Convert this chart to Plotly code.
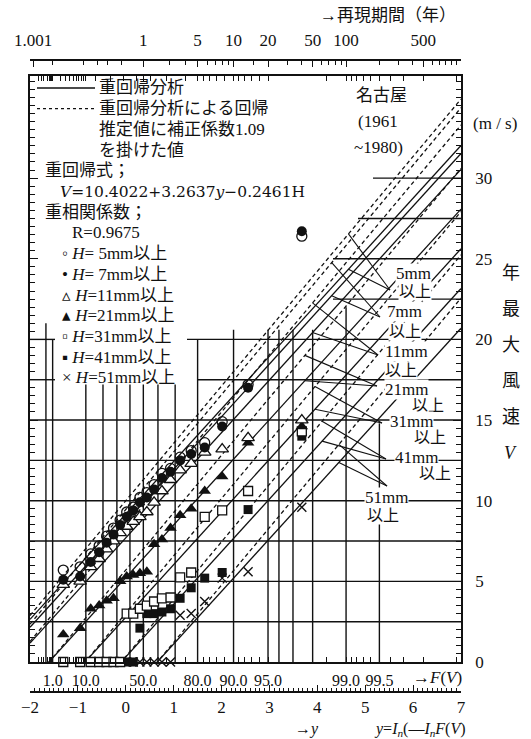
import numpy as np
import plotly.graph_objects as go

# ---------------- data ----------------
H_levels = [5, 7, 11, 21, 31, 41, 51]
coef_a, coef_b, coef_c = 10.4022, 3.2637, 0.2461   # V = a + b*y - c*H
correction = 1.09

# reduced variate y of plotting positions
reduced_y = [-1.305, -0.953, -0.732, -0.556, -0.400, -0.256, -0.118, 0.019, 0.156, 0.295,
             0.440, 0.591, 0.755, 0.935, 1.135, 1.366, 1.648, 2.013, 2.554, 3.676]

V_H5 = [5.7, 5.9, 6.7, 7.2, 7.8, 8.3, 8.8, 9.3, 9.6, 10.2, 10.5, 11.0, 11.7, 12.0, 12.7, 13.1, 13.6, 14.9, 17.2, 26.4]
V_H7 = [5.1, 5.3, 6.2, 6.8, 7.4, 7.9, 8.5, 9.0, 9.4, 9.9, 10.2, 10.7, 11.4, 11.8, 12.5, 12.9, 13.3, 14.6, 17.0, 26.7]
V_H11 = [4.8, 5.0, 5.9, 6.4, 7.0, 7.5, 8.0, 8.4, 8.7, 9.0, 9.3, 9.9, 10.6, 11.3, 11.9, 12.3, 13.0, 13.2, 13.9, 15.0]
V_H21 = [1.7, 2.1, 3.3, 3.5, 3.8, 3.95, 5.0, 5.3, 5.4, 5.5, 5.6, 7.3, 7.6, 8.3, 9.1, 9.5, 10.6, 11.5, 13.6, 14.6]
V_H31 = [0, 0, 0, 0, 0, 0, 0, 3.0, 3.0, 3.3, 3.5, 3.75, 3.95, 4.0, 5.25, 5.55, 9.0, 9.4, 10.6, 14.3]
V_H41 = [0, 0, 0, 0, 0, 0, 0, 0, 0, 2.1, 3.0, 3.0, 3.1, 3.3, 3.95, 4.6, 5.2, 5.55, 9.45, 14.0]
V_H51 = [0, 0, 0, 0, 0, 0, 0, 0, 0, 0, 0, 0, 0, 0, 2.9, 3.0, 3.75, 5.2, 5.6, 9.6]

F_tick_values = [0.01, 0.1, 0.5, 0.8, 0.9, 0.95, 0.99, 0.995]
F_tick_labels = ["1.0", "10.0", "50.0", "80.0", "90.0", "95.0", "99.0", "99.5"]
F_minor_values = [0.002, 0.003, 0.004, 0.006, 0.007, 0.008, 0.009, 0.02, 0.03, 0.04, 0.05, 0.06,
                  0.07, 0.08, 0.09, 0.15, 0.25, 0.35, 0.45, 0.55, 0.65, 0.75, 0.82, 0.84, 0.86,
                  0.88, 0.91, 0.92, 0.93, 0.94, 0.985, 0.991, 0.992, 0.993, 0.994, 0.996, 0.997,
                  0.998, 0.999]
T_tick_values = [1.001, 2, 5, 10, 20, 50, 100, 500]
T_tick_labels = ["1.001", "1", "5", "10", "20", "50", "100", "500"]
T_minor_values = [1.01, 1.1, 1.2, 1.3, 1.5, 3, 4, 6, 7, 8, 9, 15, 30, 40, 60, 70, 80, 90,
                  200, 300, 400, 600, 700, 800, 900, 1000]
y_tick_values = [-2, -1, 0, 1, 2, 3, 4, 5, 6, 7]
V_tick_values = [0, 5, 10, 15, 20, 25, 30]
F_grid_values = [0.005, 0.01, 0.1, 0.2, 0.3, 0.4, 0.5, 0.6, 0.7, 0.8, 0.9, 0.95, 0.96, 0.97,
                 0.98, 0.99, 0.995]
V_grid_values = [2.5, 5, 7.5, 10, 12.5, 15, 17.5, 20, 22.5, 25, 27.5, 30]

legend_texts = ["重回帰分析", "重回帰分析による回帰", "推定値に補正係数1.09", "を掛けた値",
                "重回帰式；", "<i>V</i>=10.4022+3.2637<i>y</i>−0.2461H", "重相関係数；", "R=0.9675"]
series_names = ["<i>H</i>= 5mm以上", "<i>H</i>= 7mm以上", "<i>H</i>=11mm以上", "<i>H</i>=21mm以上",
                "<i>H</i>=31mm以上", "<i>H</i>=41mm以上", "<i>H</i>=51mm以上"]
series_glyphs = ["◦", "•", "▵", "▴", "▫", "▪", "×"]
line_labels = ["5mm", "7mm", "11mm", "21mm", "31mm", "41mm", "51mm"]


def gumbel(F):
    return -np.log(-np.log(np.asarray(F, dtype=float)))


def T_to_y(T):
    return gumbel(1.0 - 1.0 / np.asarray(T, dtype=float))


# ---------------- geometry helpers ----------------
W, Hgt = 531, 739
ML, MR, MT, MB = 30, 70, 40, 27
PW = W - ML - MR
PH = Hgt - MT - MB
X_MIN, X_MAX = -2, 7
V_TOP = 36.33


def PX(px):
    return (px - ML) / PW


def PY(py):
    return (Hgt - MB - py) / PH


def px2x(px):
    return X_MIN + (px - ML) / PW * (X_MAX - X_MIN)


def py2v(py):
    return (662 - py) / (662 - 76) * V_TOP


SERIF = "Liberation Serif, Noto Sans CJK JP, serif"
DSERIF = "DejaVu Serif, Noto Sans CJK JP, serif"
FC = "#111"

fig = go.Figure()

# ---------------- grid (partial lines) ----------------
v_grid_tops = {0.005: 21.0, 0.01: 20.0, 0.8: 20.0, 0.9: 20.6, 0.95: 20.6, 0.96: 20.6,
               0.97: 20.6, 0.98: 20.6, 0.99: 22.0, 0.995: 14.8}
shapes = []
for F in F_grid_values:
    xg = float(gumbel(F))
    top = v_grid_tops.get(F, 17.2)
    shapes.append(dict(type="line", xref="x", yref="y", x0=xg, x1=xg, y0=0, y1=top,
                       line=dict(color=FC, width=1.4), layer="below"))
h_grid_start = {17.5: px2x(198), 20: px2x(187), 22.5: px2x(333), 25: px2x(333),
                27.5: px2x(358), 30: px2x(373)}
for Vg in V_grid_values:
    x0 = h_grid_start.get(Vg, X_MIN)
    shapes.append(dict(type="line", xref="x", yref="y", x0=x0, x1=X_MAX, y0=Vg, y1=Vg,
                       line=dict(color=FC, width=1.4), layer="below"))
    if Vg in (17.5, 20):
        shapes.append(dict(type="line", xref="x", yref="y", x0=X_MIN, x1=px2x(55), y0=Vg, y1=Vg,
                           line=dict(color=FC, width=1.4), layer="below"))

# ---------------- regression lines ----------------
xs = np.array([X_MIN, X_MAX], dtype=float)
for H in H_levels:
    base = coef_a + coef_b * xs - coef_c * H
    fig.add_trace(go.Scatter(x=xs, y=base, mode="lines", line=dict(color=FC, width=1.3),
                             hoverinfo="skip", showlegend=False))
    fig.add_trace(go.Scatter(x=xs, y=base * correction, mode="lines",
                             line=dict(color=FC, width=1.3, dash="4px,3px"),
                             hoverinfo="skip", showlegend=False))

# ---------------- data markers ----------------
series = {5: V_H5, 7: V_H7, 11: V_H11, 21: V_H21, 31: V_H31, 41: V_H41, 51: V_H51}
styles = {
    5: dict(symbol="circle-open", size=10, color=FC, line=dict(color=FC, width=1.3)),
    7: dict(symbol="circle", size=10, color=FC, line=dict(color=FC, width=0)),
    11: dict(symbol="triangle-up", size=11, color="white", line=dict(color=FC, width=1.3)),
    21: dict(symbol="triangle-up", size=11, color=FC, line=dict(color=FC, width=0)),
    31: dict(symbol="square", size=9, color="white", line=dict(color=FC, width=1.3)),
    41: dict(symbol="square", size=9, color=FC, line=dict(color=FC, width=0)),
    51: dict(symbol="x-thin", size=9, color=FC, line=dict(color=FC, width=1.4)),
}
for H in [51, 41, 31, 21, 11, 5, 7]:
    fig.add_trace(go.Scatter(x=reduced_y, y=series[H], mode="markers", marker=styles[H],
                             cliponaxis=False, name=f"H={H}mm", showlegend=False,
                             hovertemplate="y=%{x}<br>V=%{y}<extra></extra>"))

# dummy traces so the extra axes are drawn
fig.add_trace(go.Scatter(x=[0], y=[0], xaxis="x2", yaxis="y", mode="markers",
                         marker=dict(opacity=0), hoverinfo="skip", showlegend=False))
fig.add_trace(go.Scatter(x=[0], y=[0], xaxis="x3", yaxis="y", mode="markers",
                         marker=dict(opacity=0), hoverinfo="skip", showlegend=False))

# ---------------- leader lines & line labels ----------------
ann = []
label_geo = [  # converge point (px), label pos (px) for "Xmm" and "以上", leader start y
    ((390, 290), (395, 273), (398, 291), 4.65),
    ((380, 317), (386, 311), (388, 331), 4.30),
    ((378, 355), (384, 351), (384, 370), 3.90),
    ((377, 386), (384, 389), (411, 405), 3.74),
    ((382, 423), (389, 421), (413, 437), 3.95),
    ((386, 459), (394, 457), (418, 474), 4.10),
    ((387, 486), (364, 497), (366, 515), 4.45),
]
for H, lab, (cp, p1, p2, ys) in zip(H_levels, line_labels, label_geo):
    base = coef_a + coef_b * ys - coef_c * H
    for vstart in (base, base * correction):
        shapes.append(dict(type="line", xref="x", yref="y", x0=ys, y0=vstart,
                           x1=px2x(cp[0]), y1=py2v(cp[1]), line=dict(color=FC, width=1.1)))
    ann.append(dict(text=lab, x=PX(p1[0]), y=PY(p1[1]), xanchor="left", yanchor="middle",
                    font=dict(size=17, family=SERIF, color=FC), bgcolor="white", borderpad=0))
    ann.append(dict(text="以上", x=PX(p2[0]), y=PY(p2[1]), xanchor="left", yanchor="middle",
                    font=dict(size=16, family=SERIF, color=FC), bgcolor="white", borderpad=0))

# ---------------- legend block ----------------
leg_x = [97, 97, 97, 97, 43, 58, 43, 70]
for i, (t, lx) in enumerate(zip(legend_texts, leg_x)):
    fam = DSERIF if i == 5 else SERIF
    ann.append(dict(text=t, x=PX(lx), y=PY(88 + 20.7 * i), xanchor="left", yanchor="middle",
                    font=dict(size=17 if i != 5 else 15.5, family=fam, color=FC)))
for j, (g, t) in enumerate(zip(series_glyphs, series_names)):
    ann.append(dict(text=g + " " + t, x=PX(60), y=PY(88 + 20.7 * (8 + j)), xanchor="left",
                    yanchor="middle", font=dict(size=17, family=SERIF, color=FC)))
shapes.append(dict(type="line", xref="paper", yref="paper", x0=PX(37), x1=PX(95),
                   y0=PY(88), y1=PY(88), line=dict(color=FC, width=1.3)))
shapes.append(dict(type="line", xref="paper", yref="paper", x0=PX(37), x1=PX(95),
                   y0=PY(108.7), y1=PY(108.7), line=dict(color=FC, width=1.3, dash="dot")))

# ---------------- other texts ----------------
for t, lx, ly in [("名古屋", 355, 95), ("(1961", 357, 121), ("~1980)", 353, 147)]:
    ann.append(dict(text=t, x=PX(lx), y=PY(ly), xanchor="left", yanchor="middle",
                    font=dict(size=17, family=SERIF, color=FC), bgcolor="white", borderpad=0))
ann.append(dict(text="(m / s)", x=PX(495), y=PY(123), xanchor="center", yanchor="middle",
                font=dict(size=17, family=SERIF, color=FC)))
for k, ch in enumerate(["年", "最", "大", "風", "速", "<i>V</i>"]):
    ann.append(dict(text=ch, x=PX(511), y=PY(273 + 36 * k), xanchor="center", yanchor="middle",
                    font=dict(size=18, family=SERIF, color=FC)))
ann.append(dict(text="→再現期間（年）", x=PX(318), y=PY(15), xanchor="left", yanchor="middle",
                font=dict(size=17, family=SERIF, color=FC)))
ann.append(dict(text="→<i>F</i>(<i>V</i>)", x=PX(464), y=PY(677), xanchor="right",
                yanchor="middle", font=dict(size=17, family=SERIF, color=FC)))
ann.append(dict(text="→<i>y</i>", x=PX(293), y=PY(729), xanchor="left", yanchor="middle",
                font=dict(size=16, family=SERIF, color=FC)))
ann.append(dict(text="<i>y</i>=<i>I<sub>n</sub></i>(—<i>I<sub>n</sub>F</i>(<i>V</i>)",
                x=PX(468), y=PY(729), xanchor="right", yanchor="middle",
                font=dict(size=16, family=SERIF, color=FC)))
for a in ann:
    a.setdefault("xref", "paper")
    a.setdefault("yref", "paper")
    a.setdefault("showarrow", False)

# ---------------- axes ----------------
y0d, y1d = PY(662), PY(76)
fig.update_layout(
    width=W, height=Hgt,
    margin=dict(l=ML, r=MR, t=MT, b=MB, pad=0),
    paper_bgcolor="white", plot_bgcolor="white",
    showlegend=False,
    shapes=shapes,
    annotations=ann,
    xaxis=dict(domain=[0, 1], range=[X_MIN, X_MAX], anchor="y",
               tickmode="array", tickvals=list(gumbel(F_tick_values)), ticktext=F_tick_labels,
               ticks="inside", ticklen=5, tickwidth=1.2, tickcolor=FC,
               minor=dict(tickmode="array", tickvals=list(gumbel(F_minor_values)),
                          ticks="inside", ticklen=5, tickwidth=1.1, tickcolor=FC, showgrid=False),
               showline=True, linecolor=FC, linewidth=1.6, mirror="ticks",
               showgrid=False, zeroline=False, ticklabelstandoff=3,
               tickfont=dict(size=16, family=SERIF, color=FC)),
    xaxis2=dict(overlaying="x", anchor="free", position=PY(692), side="bottom",
                range=[X_MIN, X_MAX], tickmode="array", tickvals=y_tick_values,
                ticks="inside", ticklen=6, tickwidth=1.2, tickcolor=FC,
                minor=dict(dtick=0.1, tick0=0, ticks="inside", ticklen=3, tickwidth=1,
                           tickcolor=FC, showgrid=False),
                showline=True, linecolor=FC, linewidth=1.6, showgrid=False, zeroline=False,
                ticklabelstandoff=0, tickfont=dict(size=17, family=SERIF, color=FC)),
    xaxis3=dict(overlaying="x", anchor="free", position=PY(60), side="top",
                range=[X_MIN, X_MAX], tickmode="array", tickvals=list(T_to_y(T_tick_values)),
                ticktext=T_tick_labels, ticks="inside", ticklen=6, tickwidth=1.2, tickcolor=FC,
                minor=dict(tickmode="array", tickvals=list(T_to_y(T_minor_values)),
                           ticks="inside", ticklen=4, tickwidth=1.1, tickcolor=FC, showgrid=False),
                showline=True, linecolor=FC, linewidth=1.6, showgrid=False, zeroline=False,
                ticklabelstandoff=6, tickfont=dict(size=17, family=SERIF, color=FC)),
    yaxis=dict(domain=[y0d, y1d], range=[0, V_TOP], side="right", anchor="x",
               tickmode="array", tickvals=V_tick_values,
               ticks="inside", ticklen=8, tickwidth=1.2, tickcolor=FC,
               minor=dict(dtick=0.5, tick0=0, ticks="inside", ticklen=5, tickwidth=1.1,
                          tickcolor=FC, showgrid=False),
               showline=True, linecolor=FC, linewidth=1.6, mirror="ticks",
               showgrid=False, zeroline=False, ticklabelstandoff=9,
               tickfont=dict(size=17, family=SERIF, color=FC)),
)

fig.write_html("out.html", config={"displayModeBar": False},
               post_script="document.body.style.margin='0px';document.body.style.overflow='hidden';")
